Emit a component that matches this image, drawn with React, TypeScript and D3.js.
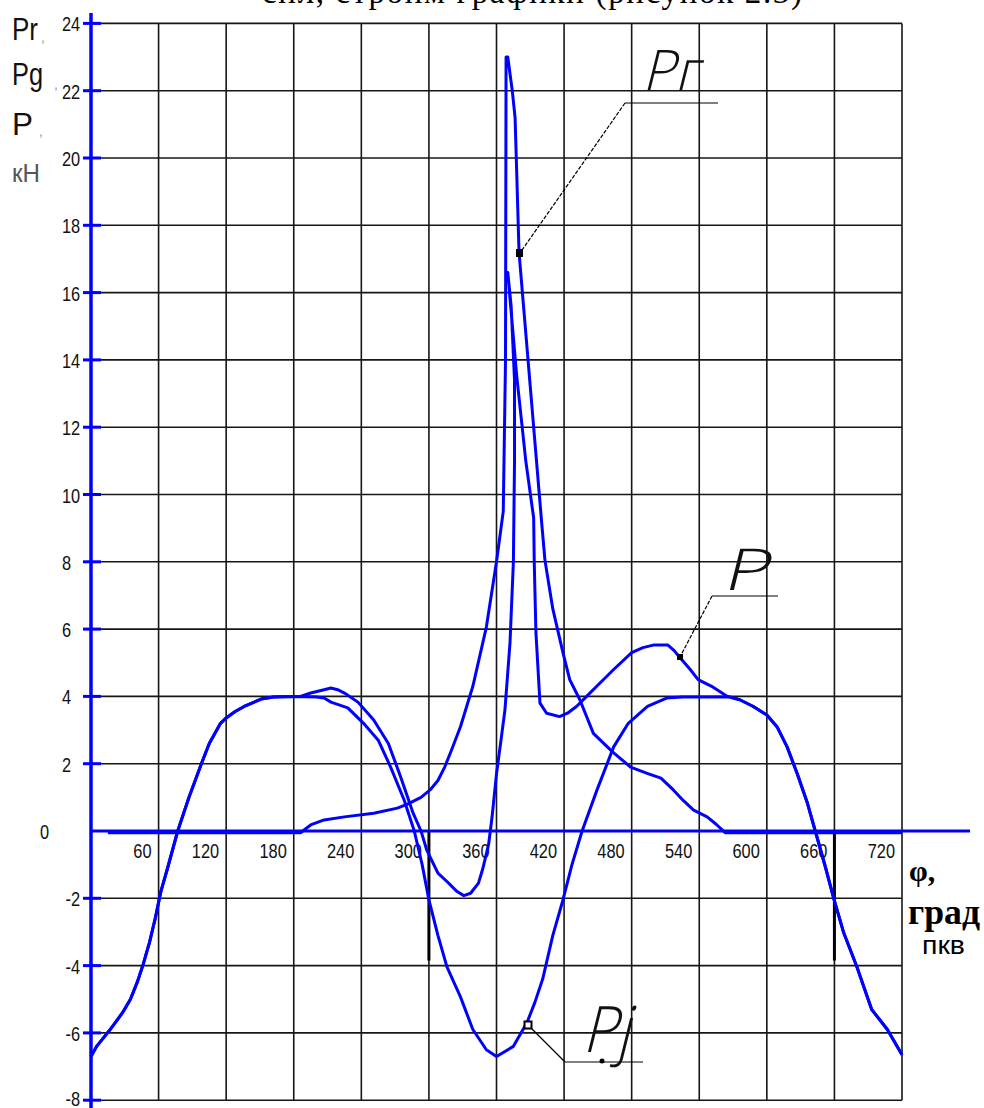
import React from "react";
import * as d3 from "d3";

// crank angle, deg
const xTicks = [0, 60, 120, 180, 240, 300, 360, 420, 480, 540, 600, 660, 720];
const yTicks = [-8, -6, -4, -2, 0, 2, 4, 6, 8, 10, 12, 14, 16, 18, 20, 22, 24];

// Pj - inertia force, kN
const pjPhi = [0, 5, 17, 28, 35, 41, 46, 52, 57, 62, 68, 77, 87, 98, 105, 115, 120, 128, 136, 151, 162, 180, 200, 207, 213, 228, 242, 255, 266, 278, 287, 294, 300, 308, 316, 328, 339, 351, 360, 375, 387, 394, 401, 410, 419, 427, 436, 449, 464, 477, 494, 511, 525, 567, 576, 588, 600, 609, 618, 627, 636, 643, 652, 659, 668, 680, 693, 707, 720];
const pjVal = [-6.7, -6.4, -5.9, -5.4, -5.0, -4.5, -4.0, -3.3, -2.6, -1.8, -1.1, 0, 1.0, 2.0, 2.6, 3.2, 3.36, 3.55, 3.7, 3.92, 3.98, 4.0, 3.98, 3.95, 3.83, 3.66, 3.2, 2.7, 1.9, 0.92, 0, -1.0, -2.05, -3.1, -4.04, -4.93, -5.9, -6.5, -6.7, -6.4, -5.7, -5.1, -4.4, -3.1, -2.05, -1.0, 0, 1.2, 2.5, 3.2, 3.7, 3.95, 3.98, 3.98, 3.9, 3.7, 3.45, 3.1, 2.5, 1.7, 0.83, 0, -1.07, -1.96, -3.0, -4.04, -5.3, -5.9, -6.65];

// Pr - gas force, kN
const prPhi = [15, 186, 195, 207, 225, 251, 272, 281, 293, 301, 308, 314, 320, 328, 339, 351, 360, 366, 368, 368.5, 370, 374, 376.5, 378, 380, 385, 390, 395, 400, 403, 410, 419, 425, 434, 446, 463, 479, 495, 506, 517, 526, 535, 547, 555, 563, 720];
const prVal = [-0.05, -0.05, 0.18, 0.33, 0.42, 0.53, 0.68, 0.8, 1.0, 1.22, 1.5, 1.9, 2.4, 3.1, 4.3, 6.06, 8.0, 9.5, 14, 23, 23, 22, 21.2, 19.5, 17.2, 15.2, 13.2, 11.2, 9.2, 8.05, 6.6, 5.3, 4.5, 3.9, 2.9, 2.35, 1.9, 1.7, 1.57, 1.22, 0.9, 0.62, 0.42, 0.2, -0.05, -0.05];

// P - total force, kN
const pPhi = [0, 5, 17, 28, 35, 41, 46, 52, 57, 62, 68, 77, 87, 98, 105, 115, 120, 128, 136, 151, 162, 180, 186, 195, 207, 213, 219, 225, 237, 251, 264, 275, 286, 293, 298, 308, 316, 325, 331, 337, 344, 348, 353, 356, 360, 364, 367.5, 372, 375, 376, 376, 373, 370, 378, 386, 393, 393.5, 395, 398.6, 404.5, 416, 423, 431, 440, 449, 464, 480, 490, 500, 512, 518, 523, 532, 539, 551, 565, 576, 588, 600, 609, 618, 627, 636, 643, 652, 659, 668, 680, 693, 707, 720];
const pVal = [-6.7, -6.4, -5.9, -5.4, -5.0, -4.5, -4.0, -3.3, -2.6, -1.8, -1.1, 0, 1.0, 2.0, 2.6, 3.2, 3.36, 3.55, 3.7, 3.92, 3.98, 4.0, 4.0, 4.1, 4.2, 4.25, 4.2, 4.1, 3.83, 3.3, 2.6, 1.6, 0.53, 0.0, -0.56, -1.25, -1.5, -1.8, -1.92, -1.85, -1.55, -1.1, -0.4, 0.4, 1.7, 2.7, 3.6, 5.6, 8.0, 11, 13.4, 15.6, 16.6, 13.5, 11, 9.3, 8, 5.9, 3.8, 3.5, 3.4, 3.5, 3.7, 4.0, 4.3, 4.8, 5.3, 5.45, 5.53, 5.53, 5.35, 5.15, 4.8, 4.5, 4.3, 4.0, 3.9, 3.7, 3.45, 3.1, 2.5, 1.7, 0.83, 0, -1.07, -1.96, -3.0, -4.04, -5.3, -5.9, -6.65];

const W = 984;
const H = 1108;
const BLUE = "#0000ff";
const GRID = "#161616";

const zip = (a: number[], b: number[]) => a.map((v, i) => [v, b[i]] as [number, number]);

const Num = ({ x, y, anchor = "start", children }: any) => (
  <text
    transform={`translate(${x},${y}) scale(0.78,1)`}
    textAnchor={anchor}
    fontFamily="'Liberation Sans', Arial, sans-serif"
    fontSize={21}
    fill="#111"
  >
    {children}
  </text>
);

// slanted thin lettering for the callouts
const Callout = ({ x, y, size, width, children }: any) => (
  <text
    transform={`translate(${x},${y}) skewX(-14)`}
    fontFamily="'Open Sans', 'DejaVu Sans', sans-serif"
    fontWeight={300}
    fontSize={size}
    textLength={width}
    lengthAdjust="spacingAndGlyphs"
    fill="#111"
  >
    {children}
  </text>
);

export default function App() {
  const x = d3.scaleLinear().domain([0, 720]).range([91, 902]);
  const y = d3.scaleLinear().domain([-8, 24]).range([1100.2, 23.4]);

  const line = d3
    .line<[number, number]>()
    .x((d) => x(d[0]))
    .y((d) => y(d[1]));

  const series = [zip(pjPhi, pjVal), zip(prPhi, prVal), zip(pPhi, pVal)];

  return (
    <svg
      width={W}
      height={H}
      style={{ position: "absolute", left: 0, top: 0, background: "#fff" }}
    >
      {/* cut-off caption line above the chart */}
      <text x={262} y={3} fontFamily="'Liberation Serif', 'Times New Roman', serif" fontSize={33} fill="#000" textLength={540} lengthAdjust="spacing">
        сил, строим графики (рисунок 2.3)
      </text>

      {/* grid */}
      <g stroke={GRID} strokeWidth={1.6}>
        {xTicks.slice(1).map((t) => (
          <line key={"v" + t} x1={x(t)} x2={x(t)} y1={y(24)} y2={y(-8)} />
        ))}
        {yTicks.filter((t) => t !== 0).map((t) => (
          <line key={"h" + t} x1={x(0)} x2={x(720)} y1={y(t)} y2={y(t)} />
        ))}
      </g>
      {/* thick markers */}
      <g stroke="#000" strokeWidth={3}>
        <line x1={x(300)} x2={x(300)} y1={y(0)} y2={y(-3.85)} />
        <line x1={x(660)} x2={x(660)} y1={y(0)} y2={y(-3.85)} />
      </g>

      {/* axes */}
      <line x1={x(0)} x2={970} y1={y(0)} y2={y(0)} stroke={BLUE} strokeWidth={3} />
      <line x1={x(0)} x2={x(0)} y1={13} y2={H} stroke={BLUE} strokeWidth={3.5} />
      <g stroke={BLUE} strokeWidth={3}>
        {yTicks.filter((t) => t !== 0).map((t) => (
          <line key={"t" + t} x1={83} x2={101} y1={y(t)} y2={y(t)} />
        ))}
      </g>

      {/* y labels */}
      {yTicks.map((t) =>
        t === 0 ? (
          <Num key={"yl" + t} x={40} y={y(t) + 8}>0</Num>
        ) : t > 0 ? (
          <Num key={"yl" + t} x={62} y={y(t) + 8}>{t}</Num>
        ) : (
          <Num key={"yl" + t} x={80} y={y(t) + (t === -8 ? 6 : 8)} anchor="end">{"-" + Math.abs(t)}</Num>
        )
      )}

      {/* x labels */}
      {xTicks.slice(1).map((t) => (
        <Num key={"xl" + t} x={x(t) - 7} y={858} anchor="end">{t}</Num>
      ))}

      {/* curves */}
      {series.map((s, i) => (
        <path key={i} d={line(s) || ""} fill="none" stroke={BLUE} strokeWidth={3} strokeLinejoin="round" />
      ))}

      {/* axis titles */}
      <g fontFamily="'Liberation Sans', Arial, sans-serif" fill="#111">
        <text x={12} y={40} fontSize={31} textLength={26} lengthAdjust="spacingAndGlyphs">Pr</text>
        <text x={41} y={42} fontSize={14} fill="#999">,</text>
        <text x={12} y={85} fontSize={31} textLength={31} lengthAdjust="spacingAndGlyphs">Pg</text>
        <text x={54} y={89} fontSize={14} fill="#999">,</text>
        <text x={12} y={135} fontSize={31} textLength={21} lengthAdjust="spacingAndGlyphs">P</text>
        <text x={39} y={136} fontSize={14} fill="#999">,</text>
        <text x={12} y={182} fontSize={26} fill="#555" textLength={28} lengthAdjust="spacingAndGlyphs">кН</text>
      </g>
      <g fontFamily="'Liberation Serif', 'Times New Roman', serif" fontWeight="bold" fill="#000">
        <text x={909} y={881} fontSize={30}>φ,</text>
        <text x={908} y={924} fontSize={36} textLength={72} lengthAdjust="spacingAndGlyphs">град</text>
      </g>
      <text x={922} y={954} fontFamily="'Liberation Sans', Arial, sans-serif" fontSize={25} fill="#000" textLength={43} lengthAdjust="spacingAndGlyphs">пкв</text>

      {/* callouts */}
      <g stroke="#000" strokeWidth={1.2} fill="none">
        <line x1={625} y1={103} x2={718} y2={103} />
        <line x1={625} y1={103} x2={520} y2={253} strokeDasharray="4 1.5" />
        <line x1={712} y1={596} x2={778} y2={596} />
        <line x1={712} y1={596} x2={680} y2={657} strokeDasharray="4 1.5" />
        <line x1={565} y1={1062} x2={643} y2={1062} />
        <line x1={565} y1={1062} x2={528} y2={1025} />
      </g>
      <rect x={516} y={249} width={7} height={8} fill="#000" />
      <rect x={677} y={654} width={6} height={6} fill="#000" />
      <rect x={524.5} y={1021.5} width={7} height={7} fill="#fff" stroke="#000" strokeWidth={2} />
      <Callout x={642} y={90} size={56} width={56}>Pг</Callout>
      <Callout x={722} y={590} size={58} width={46}>P</Callout>
      <Callout x={582} y={1052} size={64} width={48}>Pj</Callout>
      <circle cx={602} cy={1061} r={2.5} fill="#000" />
    </svg>
  );
}
